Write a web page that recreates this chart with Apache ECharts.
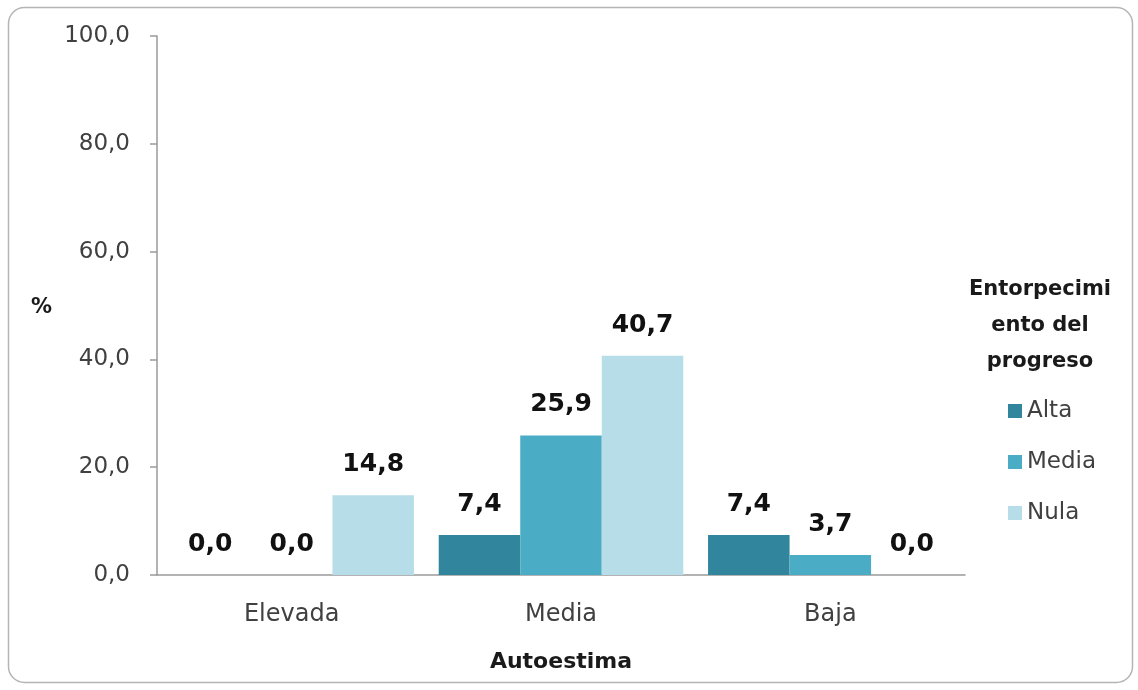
<!DOCTYPE html>
<html>
<head>
<meta charset="utf-8">
<script src="https://cdn.jsdelivr.net/npm/echarts@6/dist/echarts.min.js"></script>
<style>
  html, body { margin: 0; padding: 0; background: #ffffff; }
  #chart { width: 1138px; height: 690px; }
</style>
</head>
<body>
<div id="chart"></div>
<script>
// Autoestima categories and the three "Entorpecimiento del progreso" levels
const categories = ['Elevada', 'Media', 'Baja'];
const seriesNames = ['Alta', 'Media', 'Nula'];
const valuesAlta = [0.0, 7.4, 7.4];
const valuesMedia = [0.0, 25.9, 3.7];
const valuesNula = [14.8, 40.7, 0.0];
const seriesColors = ['#31859c', '#4bacc6', '#b7dee8'];
const yTicks = { min: 0, max: 100, interval: 20 };

const FONT = '"DejaVu Sans", sans-serif';
const fmt = v => Number(v).toFixed(1).replace('.', ',');

const chart = echarts.init(document.getElementById('chart'), null, { renderer: 'canvas' });

const seriesValues = [valuesAlta, valuesMedia, valuesNula];

const option = {
  backgroundColor: '#ffffff',
  animation: false,
  textStyle: { fontFamily: FONT },
  grid: { left: 157, right: 173, top: 36, bottom: 115, containLabel: false },
  xAxis: {
    type: 'category',
    data: categories,
    name: 'Autoestima',
    nameLocation: 'middle',
    nameGap: 76,
    nameTextStyle: { fontFamily: FONT, fontWeight: 'bold', fontSize: 22, color: '#1a1a1a' },
    axisLine: { lineStyle: { color: '#9a9a9a', width: 1.5 } },
    axisTick: { show: false },
    axisLabel: { fontFamily: FONT, fontSize: 24, color: '#404040', margin: 28 },
    splitLine: { show: false }
  },
  yAxis: {
    type: 'value',
    min: yTicks.min,
    max: yTicks.max,
    interval: yTicks.interval,
    axisLine: { show: true, lineStyle: { color: '#9a9a9a', width: 1.5 } },
    axisTick: { show: true, inside: false, length: 7, lineStyle: { color: '#9a9a9a', width: 1.5 } },
    axisLabel: { fontFamily: FONT, fontSize: 23, color: '#404040', margin: 27, formatter: v => fmt(v) },
    splitLine: { show: false }
  },
  legend: {
    orient: 'vertical',
    left: 1003,
    top: 394,
    itemWidth: 14,
    itemHeight: 14,
    itemGap: 27,
    icon: 'rect',
    data: seriesNames,
    textStyle: { fontFamily: FONT, fontSize: 23, color: '#404040', lineHeight: 24, padding: [0, 0, 0, 0] }
  },
  graphic: [
    {
      type: 'rect',
      shape: { x: 8.5, y: 7.5, width: 1124, height: 675, r: 16 },
      style: { fill: 'none', stroke: '#b5b5b5', lineWidth: 1.5 },
      z: -10
    },
    {
      type: 'text',
      left: 31, top: 297,
      style: { text: '%', fontFamily: FONT, fontWeight: 'bold', fontSize: 21, fill: '#1a1a1a' }
    },
    {
      type: 'text',
      x: 1040, y: 272,
      style: {
        text: 'Entorpecimi\nento del\nprogreso',
        fontFamily: FONT, fontWeight: 'bold', fontSize: 21, lineHeight: 36,
        fill: '#1a1a1a', align: 'center', verticalAlign: 'top'
      }
    }
  ],
  series: seriesNames.map((name, i) => ({
    name: name,
    type: 'bar',
    data: seriesValues[i],
    barGap: '0%',
    barCategoryGap: '9.2%',
    itemStyle: { color: seriesColors[i] },
    label: {
      show: true,
      position: 'top',
      distance: 18,
      fontFamily: FONT,
      fontWeight: 'bold',
      fontSize: 25,
      color: '#111111',
      formatter: p => fmt(p.value)
    }
  }))
};

chart.setOption(option);
</script>
</body>
</html>
